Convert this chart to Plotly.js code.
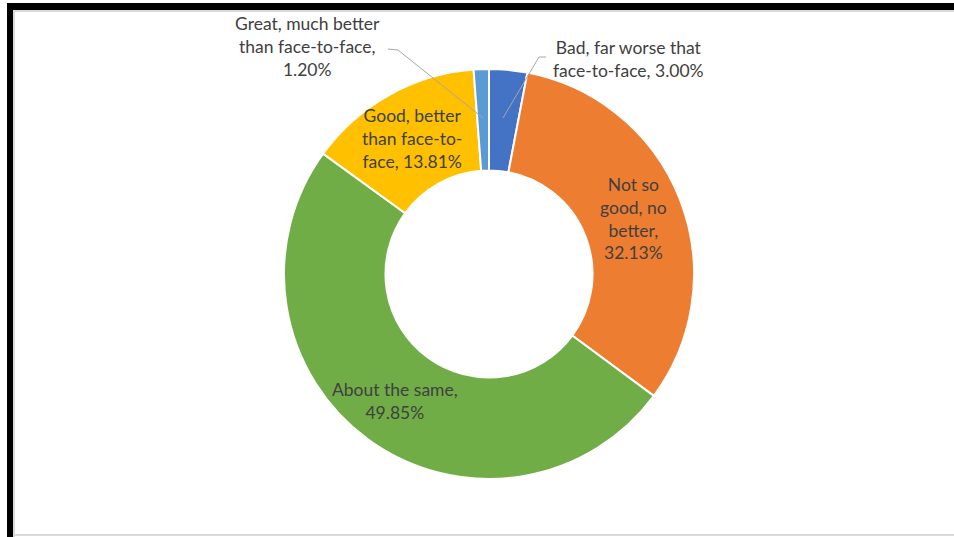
<!DOCTYPE html>
<html>
<head>
<meta charset="utf-8">
<script src="https://cdn.plot.ly/plotly-3.0.1.min.js"></script>
<style>
html,body{margin:0;padding:0;background:#fff;}
#chart{width:954px;height:537px;}
</style>
</head>
<body>
<div id="chart"></div>
<script>
// Data
var categories = ["Bad, far worse that face-to-face", "Not so good, no better", "About the same", "Good, better than face-to-face", "Great, much better than face-to-face"];
var values = [3.00, 32.13, 49.85, 13.81, 1.20];
var colors = ["#4472C4", "#ED7D31", "#70AD47", "#FFC000", "#5B9BD5"];
var wrappedLabels = ["Bad, far worse that<br>face-to-face, ", "Not so<br>good, no<br>better,<br>", "About the same,<br>", "Good, better<br>than face-to-<br>face, ", "Great, much better<br>than face-to-face,<br>"];

var W = 954, H = 537;
function px(x){ return x / W; }
function py(y){ return 1 - y / H; }

var cx = 489, cy = 274, R = 205;

var trace = {
  type: "pie",
  labels: categories,
  values: values,
  sort: false,
  direction: "clockwise",
  rotation: 0,
  hole: 0.505,
  textinfo: "none",
  hoverinfo: "label+percent",
  marker: { colors: colors, line: { color: "#ffffff", width: 2 } },
  domain: { x: [px(cx - R), px(cx + R)], y: [py(cy + R), py(cy - R)] },
  showlegend: false
};

// label positions (pixel centers)
var labelPos = [[628, 59], [633, 218], [395, 401], [412, 138], [307, 47]];
var annotations = categories.map(function(c, i){
  return {
    xref: "paper", yref: "paper",
    x: px(labelPos[i][0]), y: py(labelPos[i][1]),
    xanchor: "center", yanchor: "middle", align: "center",
    showarrow: false,
    text: wrappedLabels[i] + values[i].toFixed(2) + "%",
    font: { family: "Lato, 'Open Sans', sans-serif", size: 17.5, color: "#404040" }
  };
});

function path(pts){
  return pts.map(function(p, i){ return (i ? "L" : "M") + px(p[0]) + "," + py(p[1]); }).join(" ");
}

var shapes = [
  // frame
  { type: "rect", xref: "paper", yref: "paper", x0: px(7), x1: px(954), y0: py(10), y1: py(3), fillcolor: "#000", line: { width: 0 } },
  { type: "rect", xref: "paper", yref: "paper", x0: px(7), x1: px(13), y0: py(537), y1: py(3), fillcolor: "#000", line: { width: 0 } },
  { type: "rect", xref: "paper", yref: "paper", x0: px(13), x1: px(954), y0: py(12), y1: py(10), fillcolor: "#d9d9d9", line: { width: 0 } },
  { type: "rect", xref: "paper", yref: "paper", x0: px(13), x1: px(15), y0: py(537), y1: py(10), fillcolor: "#d9d9d9", line: { width: 0 } },
  { type: "rect", xref: "paper", yref: "paper", x0: px(13), x1: px(954), y0: py(536), y1: py(534), fillcolor: "#d9d9d9", line: { width: 0 } },
  // leader lines
  { type: "path", xref: "paper", yref: "paper", path: path([[388, 49], [398, 50], [483, 118]]), line: { color: "#a6a6a6", width: 1 } },
  { type: "path", xref: "paper", yref: "paper", path: path([[546, 57], [539, 57], [503, 118]]), line: { color: "#a6a6a6", width: 1 } }
];

var layout = {
  width: W, height: H,
  margin: { l: 0, r: 0, t: 0, b: 0 },
  paper_bgcolor: "#ffffff",
  showlegend: false,
  annotations: annotations,
  shapes: shapes
};

Plotly.newPlot("chart", [trace], layout, { displayModeBar: false, staticPlot: true });
</script>
</body>
</html>
